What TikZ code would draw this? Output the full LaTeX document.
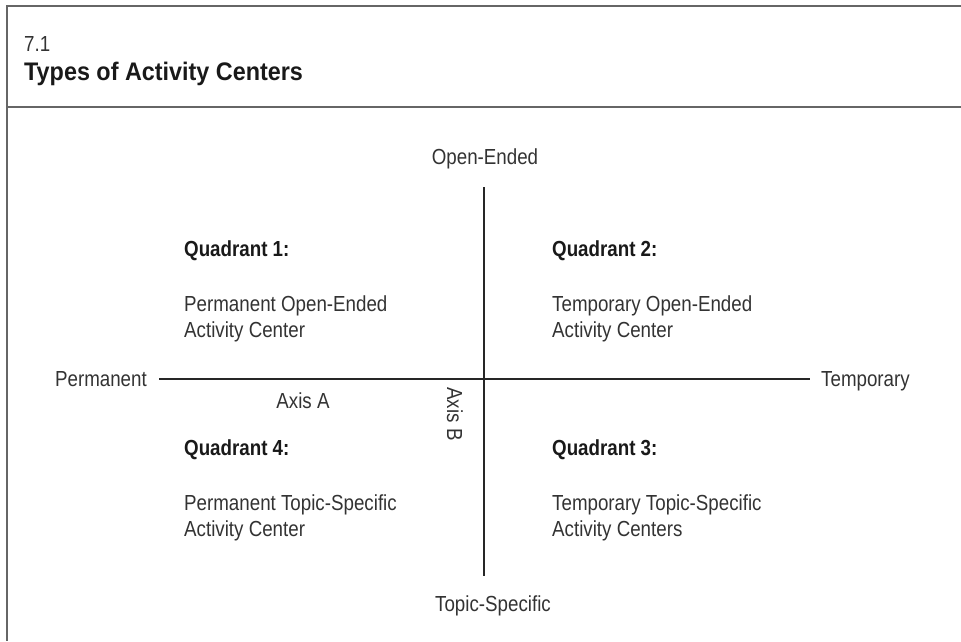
\documentclass[tikz,border=0pt]{standalone}
\usepackage{fontspec}
\setmainfont{Liberation Sans}[FakeStretch=0.86]
\newfontfamily\titlefont{Liberation Sans}[FakeStretch=0.92]
\usetikzlibrary{positioning}
\definecolor{inkgray}{HTML}{333333}
\definecolor{framegray}{HTML}{666666}
\tikzset{
  chart/.style={
	x=1pt, y=-1pt, % y runs down from the top edge
	every node/.style={inner sep=0pt, text=inkgray, font=\fontsize{21.8}{26}\selectfont},
  },
  frameline/.style={draw=framegray, line width=2pt}, % box round the figure
  axisline/.style={draw=black!85, line width=1.2pt},
  qhead/.style={anchor=base west, font=\fontsize{21.8}{26}\selectfont\bfseries, text=black!90},
  qtext/.style={anchor=north west, align=left}, % two line description
}

\begin{document}
\begin{tikzpicture}[chart]
	\useasboundingbox (0,0) rectangle (961,641);

	% frame and title bar
	\draw[frameline] (961,6) -- (7,6) -- (7,641);
	\draw[frameline] (7,107) -- (961,107);
	\node[anchor=base west] (fignum) at (24,51) {7.1};
	\node[anchor=base west, font=\titlefont\fontsize{25.4}{30}\selectfont\bfseries, text=black!90] (title) at (24,80) {Types of Activity Centers};

	% the two axes
	\coordinate (axAw) at (159,379);
	\coordinate (axAe) at (810,379);
	\coordinate (axBn) at (484,187);
	\coordinate (axBs) at (484,576);
	\draw[axisline] (axAw) -- (axAe);
	\draw[axisline] (axBn) -- (axBs);

	\node[anchor=base east] (perm) at (147,386) {Permanent};
	\node[anchor=base west] (temp) at (821,386) {Temporary};
	\node[anchor=base] (open) at (485,164) {Open-Ended};
	\node[anchor=base] (topic) at (493,611) {Topic-Specific};
	\node[anchor=base] (axA) at (303,408) {Axis A};
	\node[rotate=-90] (axB) at (455,414) {Axis B};

	% quadrants
	\node[qhead] (q1) at (184,256) {Quadrant 1:};
	\node[qtext] (q1t) at (184,295) {Permanent Open-Ended\\Activity Center};
	\node[qhead] (q2) at (552,256) {Quadrant 2:};
	\node[qtext] (q2t) at (552,295) {Temporary Open-Ended\\Activity Center};
	\node[qhead] (q4) at (184,455) {Quadrant 4:};
	\node[qtext] (q4t) at (184,494) {Permanent Topic-Specific\\Activity Center};
	\node[qhead] (q3) at (552,455) {Quadrant 3:};
	\node[qtext] (q3t) at (552,494) {Temporary Topic-Specific\\Activity Centers};
\end{tikzpicture}
\end{document}
